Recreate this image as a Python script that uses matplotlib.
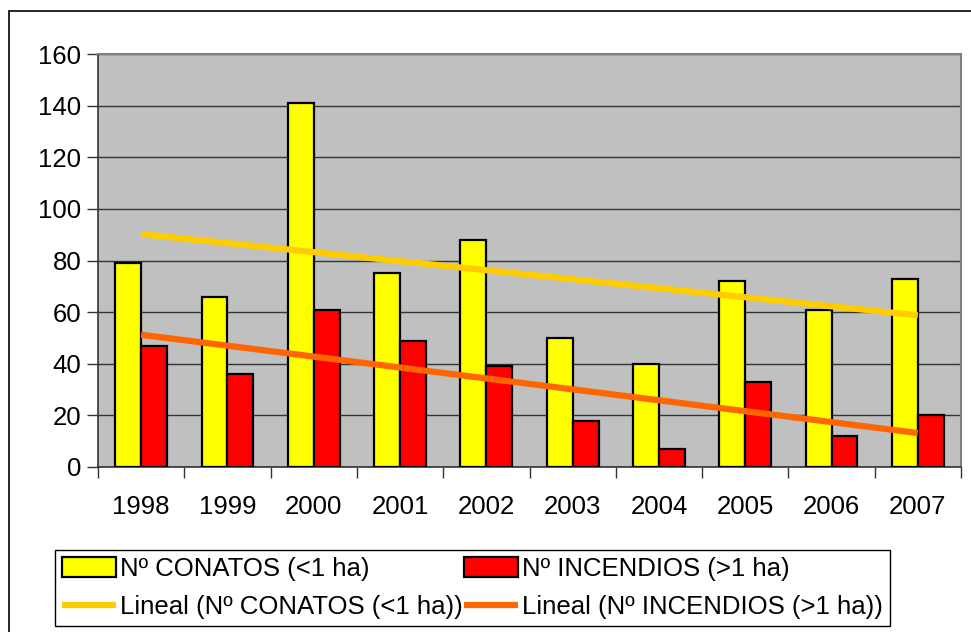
import numpy as np
import matplotlib
matplotlib.use("Agg")
import matplotlib.pyplot as plt
from matplotlib.patches import Rectangle

years = ["1998", "1999", "2000", "2001", "2002", "2003", "2004", "2005", "2006", "2007"]
conatos = [79, 66, 141, 75, 88, 50, 40, 72, 61, 73]
incendios = [47, 36, 61, 49, 39, 18, 7, 33, 12, 20]
label_conatos = "Nº CONATOS (<1 ha)"
label_incendios = "Nº INCENDIOS (>1 ha)"
label_tc = "Lineal (Nº CONATOS (<1 ha))"
label_ti = "Lineal (Nº INCENDIOS (>1 ha))"

plt.rcParams['font.family'] = ['Liberation Sans', 'DejaVu Sans']
FS = 18.5

W, H = 971, 632
fig = plt.figure(figsize=(W / 100, H / 100), dpi=100)
fig.patch.set_facecolor("white")

# outer chart frame
fig.add_artist(Rectangle((9 / W, -0.1), 1.2, (H - 11) / H + 0.1, transform=fig.transFigure,
                         fill=False, edgecolor="black", linewidth=1.2))

ax = fig.add_axes([98 / W, (H - 467) / H, 863 / W, 413 / H])
ax.set_facecolor("#C0C0C0")

x = np.arange(len(years))
bw = 0.3
b1 = ax.bar(x - bw / 2, conatos, bw, color="#FFFF00", edgecolor="black", linewidth=1.6,
            label=label_conatos, zorder=3)
b2 = ax.bar(x + bw / 2, incendios, bw, color="#FF0000", edgecolor="black", linewidth=1.6,
            label=label_incendios, zorder=3)

pc = np.polyfit(x, conatos, 1)
pi = np.polyfit(x, incendios, 1)
l1, = ax.plot(x, np.polyval(pc, x), color="#FFCC00", linewidth=4.5, label=label_tc, zorder=4,
              solid_capstyle="butt")
l2, = ax.plot(x, np.polyval(pi, x), color="#FF6600", linewidth=4.5, label=label_ti, zorder=4,
              solid_capstyle="butt")

ax.set_xlim(-0.5, len(years) - 0.5)
ax.set_ylim(0, 160)
ax.set_yticks(np.arange(0, 161, 20))
ax.yaxis.grid(True, color="#333333", linewidth=1.0, zorder=1)
ax.set_axisbelow(True)

ax.set_xticks(x)
ax.set_xticklabels(years, fontsize=FS)
ax.set_xticks(np.arange(-0.5, len(years), 1), minor=True)
ax.tick_params(axis="x", which="major", length=0, pad=20)
ax.tick_params(axis="x", which="minor", length=8, width=1, color="#333333", direction="out")
ax.tick_params(axis="y", length=8, width=1, color="#333333", direction="out", labelsize=FS, pad=4)

for s in ["top", "right"]:
    ax.spines[s].set_color("#808080")
    ax.spines[s].set_linewidth(1.5)
for s in ["left", "bottom"]:
    ax.spines[s].set_color("#333333")
    ax.spines[s].set_linewidth(1.2)

leg = fig.legend([b1, l1, b2, l2], [label_conatos, label_tc, label_incendios, label_ti],
                 ncol=2, loc="center",
                 bbox_to_anchor=(55 / W, 4 / H, (890 - 55) / W, 80 / H),
                 mode="expand", fontsize=FS, frameon=True, fancybox=False,
                 edgecolor="black", framealpha=1, borderpad=0.28, labelspacing=0.55,
                 handlelength=2.1, handleheight=0.8, handletextpad=0.15, columnspacing=0.5,
                 borderaxespad=0)
leg.get_frame().set_linewidth(1.0)

fig.savefig("out.png", dpi=100, facecolor="white")
